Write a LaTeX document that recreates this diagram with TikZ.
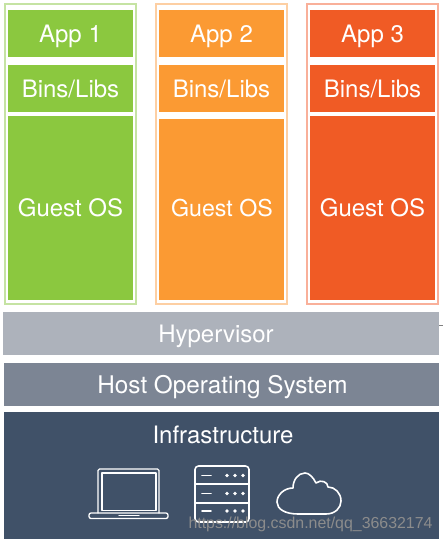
\documentclass[tikz,border=0pt]{standalone}
\usepackage{fontspec}
\setmainfont{TeX Gyre Heros}
\newfontfamily\markfont{Liberation Sans}
\definecolor{cgreen}{HTML}{8BC83F}
\definecolor{corange}{HTML}{FB9A33}
\definecolor{cred}{HTML}{F05B25}
\definecolor{lgreen}{HTML}{C5E3A3}
\definecolor{lorange}{HTML}{FDCFA3}
\definecolor{lred}{HTML}{F9B09A}
\definecolor{chyper}{HTML}{ADB2BB}
\definecolor{chost}{HTML}{7C8594}
\definecolor{cinfra}{HTML}{405168}
\tikzset{
  x=1pt,y=-1pt,
  frame/.style={draw=#1,line width=1.3pt,fill=white},
  label text/.style={inner sep=0pt,text=white,font=\fontsize{24}{24}\selectfont,text height=17.3pt,text depth=0pt},
  layer/.style={label text,fill=#1,draw=none,minimum width=125pt},
  icon/.style={draw=white,line width=1.3pt,line join=round,line cap=round},
  iconbold/.style={draw=white,line width=1.6pt,line join=round,line cap=round},
  dotmark/.style={fill=white,draw=none,circle,minimum size=3.8pt,inner sep=0pt}
}
\begin{document}
\begin{tikzpicture}
\useasboundingbox (0,0) rectangle (443,543);
\fill[white] (0,0) rectangle (443,543);
% outer frames
\path[frame=lgreen] (5,4) rectangle (136,304);
\path[frame=lorange] (156,4) rectangle (287,304);
\path[frame=lred] (307,4) rectangle (438,304);
% green stack
\node[layer=cgreen,minimum height=47pt] (app1) at (70.5,33.5) {App 1};
\node[layer=cgreen,minimum height=47pt] (bins1) at (70.5,88.5) {Bins/Libs};
\node[layer=cgreen,minimum height=184pt] (guest1) at (70.5,208) {Guest OS};
% orange stack
\node[layer=corange,minimum height=47pt] (app2) at (221.5,33.5) {App 2};
\node[layer=corange,minimum height=47pt] (bins2) at (221.5,88.5) {Bins/Libs};
\fill[corange] (159,119) rectangle (284,300);
\node[label text,font=\fontsize{23.2}{24}\selectfont] (guest2) at (222,207.5) {Guest OS};
% red stack
\node[layer=cred,minimum height=47pt] (app3) at (372.5,33.5) {App 3};
\node[layer=cred,minimum height=47pt] (bins3) at (372.5,88.5) {Bins/Libs};
\node[layer=cred,minimum height=184pt] (guest3) at (372.5,208) {Guest OS};
% lower layers
\fill[chyper] (3,312) rectangle (439,355);
\node[label text] (hyper) at (216,333.5) {Hypervisor};
\fill[chost] (4,363) rectangle (439,406);
\node[label text,font=\fontsize{24.3}{24}\selectfont] (host) at (222.5,384.5) {Host Operating System};
\fill[cinfra] (4,412) rectangle (439,539);
\node[label text] (infra) at (223,435) {Infrastructure};
\draw[gray,line width=.6pt] (439,325) -- (443,325);
% laptop
\draw[icon,rounded corners=1.5pt] (98,513) -- (98,469) -- (159,469) -- (159,513);
\draw[icon] (102,473) rectangle (156,510.5);
\draw[icon,rounded corners=2pt] (89,513) -- (168,513) -- (168,518.5) -- (89,518.5) -- cycle;
\draw[icon] (119,515.5) -- (139,515.5);
% server
\draw[iconbold,rounded corners=3.5pt] (195,466) rectangle (249,522);
\draw[iconbold] (195,484) -- (249,484);
\draw[iconbold] (195,503) -- (249,503);
\foreach \yy/\nn in {475.5/a,493.5/b,511/c}{
  \draw[iconbold] (202,\yy) -- (211,\yy);
  \node[dotmark] (dot1\nn) at (227,\yy) {};
  \node[dotmark] (dot2\nn) at (235,\yy) {};
  \node[dotmark] (dot3\nn) at (243,\yy) {};
}
% cloud
\draw[iconbold] (298,514) -- (326,514)
  .. controls (335,514) and (341,508) .. (341,501)
  .. controls (341,493) and (335,487) .. (328,487)
  .. controls (328,482) and (321,479) .. (316,483)
  .. controls (313,477) and (309,473) .. (305,473)
  .. controls (298,473) and (293,480) .. (293,488)
  .. controls (284,488) and (277,495) .. (277,502)
  .. controls (277,509) and (285,514) .. (298,514) -- cycle;
% watermark
\node[text=black!45,inner sep=0pt,font=\markfont\fontsize{15.9}{16}\selectfont] (mark) at (310.5,524) {https://blog.csdn.net/qq\_36632174};
\end{tikzpicture}
\end{document}
